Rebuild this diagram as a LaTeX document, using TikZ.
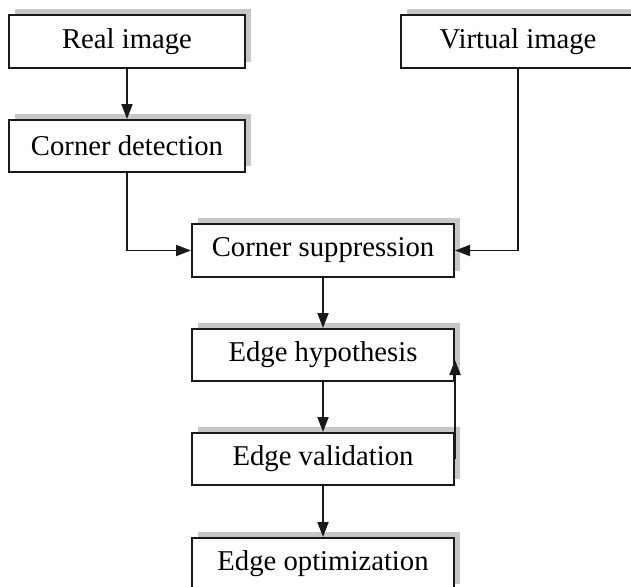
\documentclass[tikz,border=0pt]{standalone}
\usepackage{fontspec}
\setmainfont{Liberation Serif}
\usetikzlibrary{shadows,arrows.meta}
\begin{document}
\begin{tikzpicture}[x=1pt,y=-1pt,
  procbox/.style={draw=black!90, fill=white, line width=2pt, inner sep=0pt,
    minimum height=53pt, font=\fontsize{28.7}{34}\selectfont,
    drop shadow={shadow xshift=6pt, shadow yshift=6pt, fill=black!22, opacity=1}},
  conn/.style={line width=1.9pt, draw=black!90, -{Triangle[length=15pt,width=11pt]}}]
\useasboundingbox (0,0) rectangle (631,586);
\node[procbox, minimum width=236pt] (real) at (127,41.5) {Real image};
\node[procbox, minimum width=236pt, minimum height=52pt] (det) at (127,146) {Corner detection};
\node[procbox, minimum width=234pt] (virt) at (518,41.5) {Virtual image};
\node[procbox, minimum width=262pt] (supp) at (323,250.5) {Corner suppression};
\node[procbox, minimum width=262pt, minimum height=52pt] (hyp) at (323,355) {Edge hypothesis};
\node[procbox, minimum width=262pt, minimum height=52pt] (val) at (323,459) {Edge validation};
\node[procbox, minimum width=262pt, minimum height=52pt] (opt) at (323,564) {Edge optimization};
\draw[conn] (real.south) -- (det.north);
\draw[conn] (det.south) |- (supp.west);
\draw[conn] (virt.south) |- (supp.east);
\draw[conn] (supp.south) -- (hyp.north);
\draw[conn] (hyp.south) -- (val.north);
\draw[conn] (val.south) -- (opt.north);
\draw[conn] (val.east) -- ([yshift=-5pt]hyp.east);
\end{tikzpicture}
\end{document}
